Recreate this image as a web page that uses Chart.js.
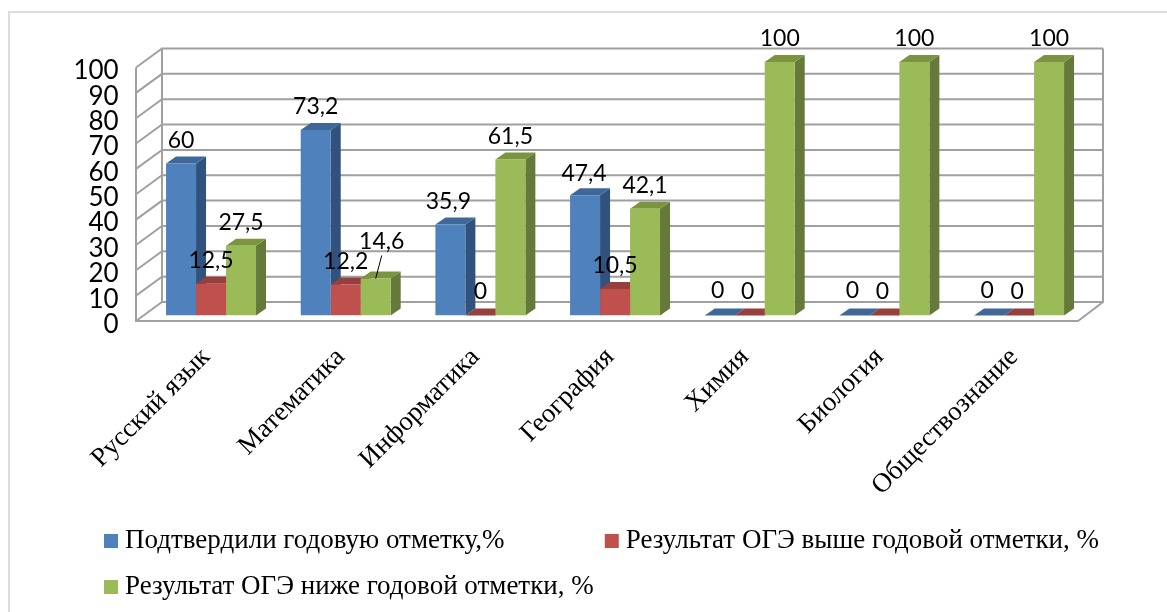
<!DOCTYPE html>
<html><head><meta charset="utf-8">
<script src="https://cdn.jsdelivr.net/npm/chart.js@4"></script>
<style>html,body{margin:0;padding:0;background:#fff}#w{position:relative;width:1167px;height:612px}</style>
</head><body><div id="w"><canvas id="c" width="1167" height="612"></canvas></div>
<script>
const categories = ['Русский язык','Математика','Информатика','География','Химия','Биология','Обществознание'];
const confirmed = [60,73.2,35.9,47.4,0,0,0];
const higher = [12.5,12.2,0,10.5,0,0,0];
const lower = [27.5,14.6,61.5,42.1,100,100,100];
const seriesNames = ['Подтвердили годовую отметку,%','Результат ОГЭ выше годовой отметки, %','Результат ОГЭ ниже годовой отметки, %'];
const yTicks = [0,10,20,30,40,50,60,70,80,90,100];

const FRONT = ['#4f81bd','#c0504d','#9bbb59'];
const SIDE = ['#30527c','#7f3a38','#65793a'];
const TOP = ['#3f689a','#963f3d','#7a943f'];
const DX = 10, DY = 7;
const GRID = '#a0a0a0';
const labelFont = '23px Lato';
// label nudges [dataset][category]: [dx, dy]
const nudges = {'0:2':[-2,0],'0:3':[-1,1],'0:4':[-2,-2],'0:5':[-2,-2],'0:6':[-2,-2],
 '1:2':[0,-1],'1:4':[-2,-1],'1:5':[-2,-1],'1:6':[-2,-1],'2:1':[6,-14]};

const fmt = v => String(v).replace('.', ',');

const scene = {
  id:'scene',
  afterLayout(chart){
    const lg = chart.legend;
    lg.left = 91.5; lg.top = 508.5; lg.right = 1167;
  },
  beforeDraw(chart){
    const {ctx} = chart;
    ctx.save();
    ctx.strokeStyle='#dcdcdc';ctx.lineWidth=2;
    ctx.beginPath();ctx.moveTo(9,612);ctx.lineTo(9,12);ctx.lineTo(1167,12);ctx.stroke();
    ctx.restore();
  },
  beforeDatasetsDraw(chart){
    const {ctx} = chart, y = chart.scales.y;
    const backL=162, backR=1103, frontL=136, frontR=1078, bUp=13.5, fDown=5.5;
    ctx.save();
    ctx.strokeStyle = GRID; ctx.lineWidth = 2;
    yTicks.forEach(t=>{
      const p = y.getPixelForValue(t);
      ctx.beginPath();
      ctx.moveTo(frontL,p+fDown); ctx.lineTo(backL,p-bUp); ctx.lineTo(backR,p-bUp);
      ctx.stroke();
    });
    const p0=y.getPixelForValue(0), p1=y.getPixelForValue(100);
    ctx.beginPath();
    ctx.moveTo(frontL,p1+fDown); ctx.lineTo(frontL,p0+fDown); ctx.lineTo(frontR,p0+fDown); ctx.lineTo(backR,p0-bUp); ctx.lineTo(backR,p1-bUp);
    ctx.moveTo(backL,p1-bUp); ctx.lineTo(backL,p0-bUp);
    ctx.stroke();
    chart.data.datasets.forEach((ds,di)=>{
      chart.getDatasetMeta(di).data.forEach(bar=>{
        const {x,y:top,base,width} = bar.getProps(['x','y','base','width'],true);
        const l=x-width/2,r=x+width/2;
        ctx.fillStyle=SIDE[di];
        ctx.beginPath();ctx.moveTo(r,top);ctx.lineTo(r+DX,top-DY);ctx.lineTo(r+DX,base-DY);ctx.lineTo(r,base);ctx.closePath();ctx.fill();
        ctx.fillStyle=TOP[di];
        ctx.beginPath();ctx.moveTo(l,top);ctx.lineTo(l+DX,top-DY);ctx.lineTo(r+DX,top-DY);ctx.lineTo(r,top);ctx.closePath();ctx.fill();
      });
    });
    ctx.restore();
  },
  afterDatasetsDraw(chart){
    const {ctx} = chart;
    ctx.save();
    ctx.font = labelFont; ctx.fillStyle='#000'; ctx.textAlign='center'; ctx.textBaseline='middle';
    chart.data.datasets.forEach((ds,di)=>{
      chart.getDatasetMeta(di).data.forEach((bar,i)=>{
        const n = nudges[di+':'+i]||[0,0];
        ctx.fillText(fmt(ds.data[i]), bar.x+n[0], bar.y-23+n[1]);
        if(di===2&&i===1){
          ctx.strokeStyle='#000';ctx.lineWidth=1;ctx.beginPath();
          ctx.moveTo(bar.x+6,bar.y-23);ctx.lineTo(bar.x,bar.y);ctx.stroke();
        }
      });
    });
    ctx.restore();
  }
};

new Chart(document.getElementById('c'),{
  type:'bar',
  data:{labels:categories,datasets:[
    {label:seriesNames[0],data:confirmed,backgroundColor:FRONT[0]},
    {label:seriesNames[1],data:higher,backgroundColor:FRONT[1]},
    {label:seriesNames[2],data:lower,backgroundColor:FRONT[2]}
  ]},
  options:{
    responsive:false,animation:false,
    layout:{padding:{top:62,right:80.6,left:0,bottom:0}},
    datasets:{bar:{barPercentage:1,categoryPercentage:0.668}},
    plugins:{
      tooltip:{enabled:false},
      legend:{
        position:'bottom',display:true,align:'start',
        labels:{
          color:'#000',font:{family:'Liberation Serif',size:27},
          boxWidth:1,boxHeight:1,padding:19,
          generateLabels(chart){
            return Chart.defaults.plugins.legend.labels.generateLabels(chart).map((it,i)=>{
              it.lineWidth=13; it.strokeStyle=it.fillStyle;
              if(i===0) it.text=it.text+' '.repeat(13);
              return it;
            });
          }
        }
      }
    },
    scales:{
      x:{
        grid:{display:false},border:{display:false},
        afterFit(s){s.height=296.5-s.chart.legend.height},
        ticks:{autoSkip:false,minRotation:45,maxRotation:45,color:'#000',padding:18,labelOffset:-5,font:{family:'Liberation Serif',size:27}}
      },
      y:{
        min:0,max:100,
        grid:{display:false},border:{display:false},
        afterFit(s){s.width=143.7},
        afterBuildTicks(s){s.ticks=yTicks.map(v=>({value:v}))},
        ticks:{autoSkip:false,color:'#000',padding:17,labelOffset:9,font:{family:'Lato',size:26}}
      }
    }
  },
  plugins:[scene]
});
</script></body></html>
